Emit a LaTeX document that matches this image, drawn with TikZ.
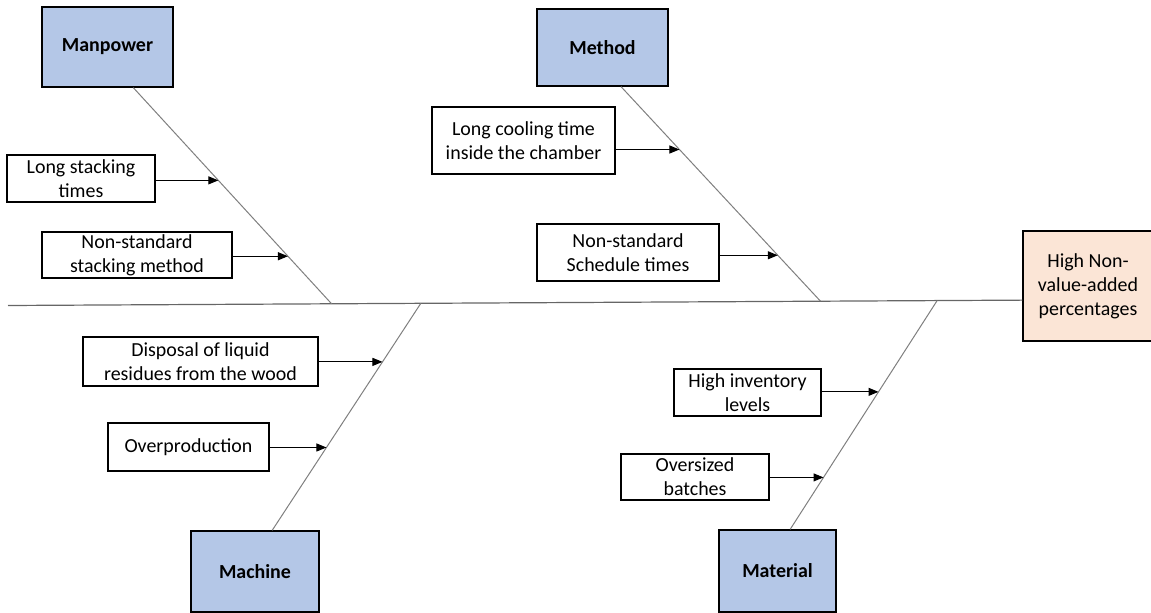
\documentclass[tikz,border=0pt]{standalone}
\usepackage{fontspec}
\setmainfont{Carlito}
\usetikzlibrary{calc,arrows.meta}
\definecolor{catfill}{HTML}{B4C7E7}
\definecolor{efffill}{HTML}{FBE5D6}
\definecolor{bonegray}{HTML}{7F7F7F}

\begin{document}
\begin{tikzpicture}[x=1bp,y=-1bp,
  every node/.style={font=\fontsize{20}{24}\selectfont, align=center, inner sep=0pt},
  cat/.style={draw=black, line width=1.3bp, fill=catfill, font=\fontsize{20}{24}\selectfont\bfseries},
  cause/.style={draw=black, line width=1.3bp, fill=white},
  effect/.style={draw=black, line width=1.3bp, fill=efffill},
  bone/.style={draw=bonegray, line width=1bp},
  spine/.style={draw=black!60, line width=1.2bp},
  feed/.style={draw=black, line width=1bp, -{Triangle[length=10bp,width=8bp]}}]

\useasboundingbox (0,0) rectangle (1151,613);

% effect
\node[effect, minimum width=130bp, minimum height=110bp] (eff) at (1088,286) {High Non-\\value-added\\percentages};

% categories
\node[cat, minimum width=131bp, minimum height=80bp] (mp) at (107.5,47) {Manpower};
\node[cat, minimum width=131bp, minimum height=77bp] (me) at (602.5,47.5) {Method};
\node[cat, minimum width=128bp, minimum height=81bp] (ma) at (255,571.5) {Machine};
\node[cat, minimum width=117bp, minimum height=82bp] (mt) at (777.5,571) {Material};

% causes
\node[cause, minimum width=148bp, minimum height=47bp] (ls) at (81,178.5) {Long stacking\\times};
\node[cause, minimum width=190bp, minimum height=46bp] (ns) at (137,255) {Non-standard\\stacking method};
\node[cause, minimum width=183bp, minimum height=67bp] (lc) at (523.5,140.5) {Long cooling time\\inside the chamber};
\node[cause, minimum width=182bp, minimum height=57bp] (nst) at (628,252.5) {Non-standard\\Schedule times};
\node[cause, minimum width=235bp, minimum height=49bp] (dl) at (200.5,361.5) {Disposal of liquid\\residues from the wood};
\node[cause, minimum width=161bp, minimum height=48bp] (op) at (188.5,447) {Overproduction};
\node[cause, minimum width=147bp, minimum height=47bp] (hi) at (747.5,392.5) {High inventory\\levels};
\node[cause, minimum width=148bp, minimum height=46bp] (ob) at (695,477) {Oversized\\batches};

% spine
\coordinate (tail) at (8,305.5);
\coordinate (head) at ($(eff.south west)!0.373!(eff.north west)$);
\draw[spine] (tail) -- (head);

% joints on the spine
\coordinate (j1) at ($(tail)!0.319!(head)$);
\coordinate (j2) at ($(tail)!0.801!(head)$);
\coordinate (j3) at ($(tail)!0.407!(head)$);
\coordinate (j4) at ($(tail)!0.916!(head)$);

% bone roots on the category boxes
\coordinate (b1) at ($(mp.south west)!0.695!(mp.south east)$);
\coordinate (b2) at ($(me.south west)!0.64!(me.south east)$);
\coordinate (b3) at ($(ma.north west)!0.633!(ma.north east)$);
\coordinate (b4) at ($(mt.north west)!0.607!(mt.north east)$);

\draw[bone] (b1) -- (j1);
\draw[bone] (b2) -- (j2);
\draw[bone] (j3) -- (b3);
\draw[bone] (j4) -- (b4);

% arrow targets on the bones
\coordinate (m1) at ($(b1)!0.429!(j1)$);
\coordinate (m2) at ($(b1)!0.780!(j1)$);
\coordinate (e1) at ($(b2)!0.293!(j2)$);
\coordinate (e2) at ($(b2)!0.786!(j2)$);
\coordinate (c1) at ($(j3)!0.258!(b3)$);
\coordinate (c2) at ($(j3)!0.635!(b3)$);
\coordinate (t1) at ($(j4)!0.399!(b4)$);
\coordinate (t2) at ($(j4)!0.773!(b4)$);

\draw[feed] (ls.east |- m1) -- (m1);
\draw[feed] (ns.east |- m2) -- (m2);
\draw[feed] (lc.east |- e1) -- (e1);
\draw[feed] (nst.east |- e2) -- (e2);
\draw[feed] (dl.east |- c1) -- (c1);
\draw[feed] (op.east |- c2) -- (c2);
\draw[feed] (hi.east |- t1) -- (t1);
\draw[feed] (ob.east |- t2) -- (t2);

\end{tikzpicture}
\end{document}
